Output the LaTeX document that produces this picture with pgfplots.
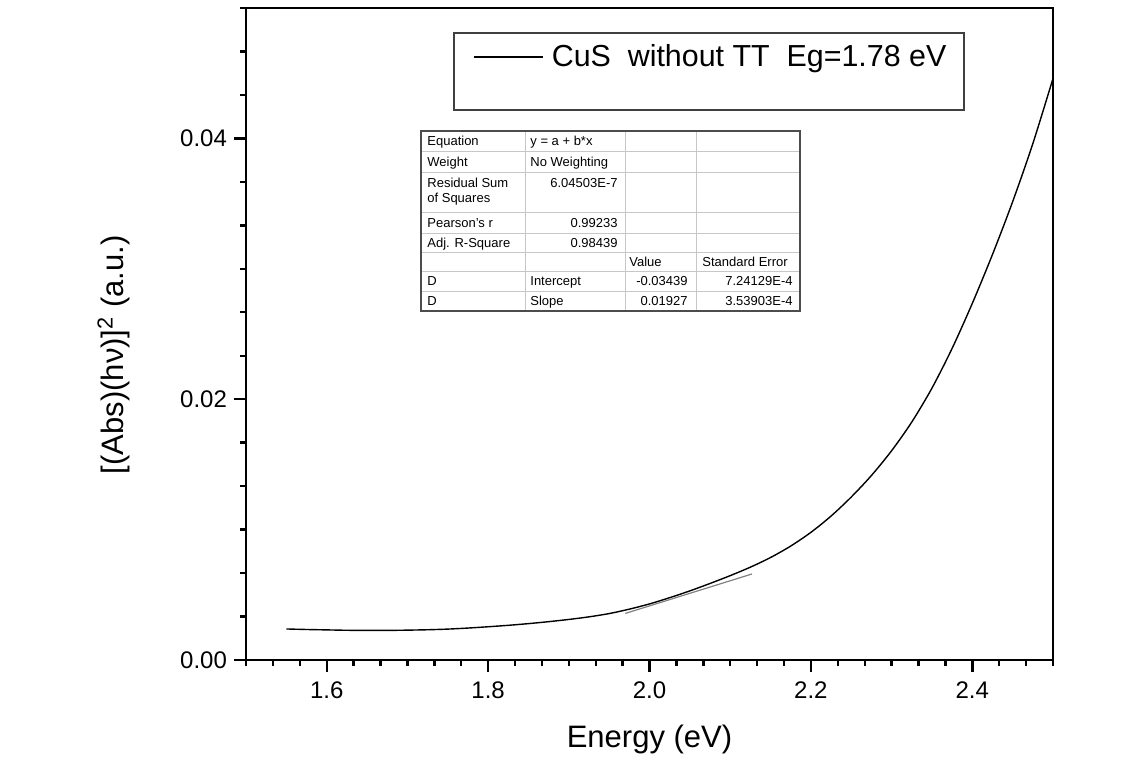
\documentclass[border=0pt]{standalone}
\usepackage{fontspec}
\setmainfont{Liberation Sans}
\usepackage{pgfplots}
\pgfplotsset{compat=1.18}
\begin{document}
\begin{tikzpicture}
\useasboundingbox (-123pt,-50pt) rectangle (446pt,330pt);
\begin{axis}[
  at={(0,0)}, anchor=south west,
  width=403.5pt, height=326pt, scale only axis,
  xmin=1.5, xmax=2.5, ymin=0, ymax=0.05,
  xtick={1.6,1.8,2.0,2.2,2.4}, ytick={0,0.02,0.04},
  minor xtick={1.5,1.5333333,...,2.51},
  minor ytick={0,0.003333333,...,0.0501},
  tick pos=left, tick align=outside,
  major tick length=6pt, minor tick length=3pt,
  axis line style={line width=1.3pt},
  every tick/.style={line width=1.2pt, black},
  scaled y ticks=false,
  xticklabel shift=1.5pt,
  xticklabel style={/pgf/number format/fixed, /pgf/number format/fixed zerofill, /pgf/number format/precision=1},
  yticklabel style={/pgf/number format/fixed, /pgf/number format/fixed zerofill, /pgf/number format/precision=2},
  /pgf/number format/assume math mode=true,
  ticklabel style={font=\fontsize{12}{14}\selectfont},
  xlabel={Energy (eV)},
  ylabel={[(Abs)(hν)]\textsuperscript{2} (a.u.)},
  label style={font=\fontsize{15.5}{18}\selectfont},
  xlabel style={at={(axis description cs:0.5,0)}, anchor=base, yshift=-43.5pt},
  ylabel style={at={(axis description cs:-0.1524,0.468)}, anchor=base},
  legend style={at={(axis description cs:0.2813,0.9248)}, anchor=west, draw=none, fill=none, inner sep=0pt, font=\fontsize{15.2}{18}\selectfont},
  legend image code/.code={\draw[#1] (0pt,0pt) -- (34.5pt,0pt); \path (36.5pt,0pt);},
]
\addplot[black, line width=0.7pt, smooth, tension=0.5] table[row sep=\\] {
x y\\
1.550 0.00238\\
1.575 0.00234\\
1.600 0.00231\\
1.625 0.00228\\
1.650 0.00227\\
1.675 0.00227\\
1.700 0.00229\\
1.725 0.00232\\
1.750 0.00237\\
1.775 0.00245\\
1.800 0.00255\\
1.825 0.00266\\
1.850 0.00279\\
1.875 0.00294\\
1.900 0.00311\\
1.925 0.00331\\
1.950 0.00356\\
1.975 0.00390\\
2.000 0.00430\\
2.025 0.00478\\
2.050 0.00530\\
2.075 0.00587\\
2.100 0.00647\\
2.125 0.00712\\
2.150 0.00786\\
2.175 0.00874\\
2.200 0.00979\\
2.225 0.01104\\
2.250 0.01250\\
2.275 0.01415\\
2.300 0.01605\\
2.325 0.01825\\
2.350 0.02085\\
2.375 0.02390\\
2.400 0.02735\\
2.425 0.03110\\
2.450 0.03515\\
2.475 0.03960\\
2.500 0.04460\\
};
\addlegendentry{CuS\ \ without TT\ \ Eg=1.78 eV}
\addplot[black!50, line width=0.6pt, forget plot] coordinates {(1.97,0.003572) (2.127,0.006597)};
\end{axis}
\begin{scope}[shift={(-123pt,330pt)}, x=0.5pt, y=-0.5pt]
  \draw[black!75, line width=0.6pt] (454,33) rectangle (964,110);
  \draw[black!22, line width=0.5pt] (525,131)--(525,311) (625,131)--(625,311) (696,131)--(696,311);
  \foreach \yy in {152,173,213,234,253,272,292} \draw[black!22, line width=0.5pt] (421,\yy)--(800,\yy);
  \draw[black!70, line width=0.6pt] (421,131) rectangle (800,311);
  \begin{scope}[every node/.style={inner sep=0pt, font=\fontsize{6.5}{7.5}\selectfont}]
  \node[anchor=base west] at (427,146) {Equation};
  \node[anchor=base west] at (530,146) {y = a + b*x};
  \node[anchor=base west] at (427,167) {Weight};
  \node[anchor=base west] at (530,167) {No Weighting};
  \node[anchor=base west] at (427,188) {Residual Sum};
  \node[anchor=base west] at (427,203) {of Squares};
  \node[anchor=base east] at (618,188) {6.04503E-7};
  \node[anchor=base west] at (427,228) {Pearson's r};
  \node[anchor=base east] at (618,228) {0.99233};
  \node[anchor=base west] at (427,248) {Adj. R-Square};
  \node[anchor=base east] at (618,248) {0.98439};
  \node[anchor=base west] at (629,267) {Value};
  \node[anchor=base west] at (702,267) {Standard Error};
  \node[anchor=base west] at (427,286) {D};
  \node[anchor=base west] at (530,286) {Intercept};
  \node[anchor=base east] at (688,286) {-0.03439};
  \node[anchor=base east] at (793,286) {7.24129E-4};
  \node[anchor=base west] at (427,306) {D};
  \node[anchor=base west] at (530,306) {Slope};
  \node[anchor=base east] at (688,306) {0.01927};
  \node[anchor=base east] at (793,306) {3.53903E-4};
  \end{scope}
\end{scope}
\end{tikzpicture}
\end{document}
